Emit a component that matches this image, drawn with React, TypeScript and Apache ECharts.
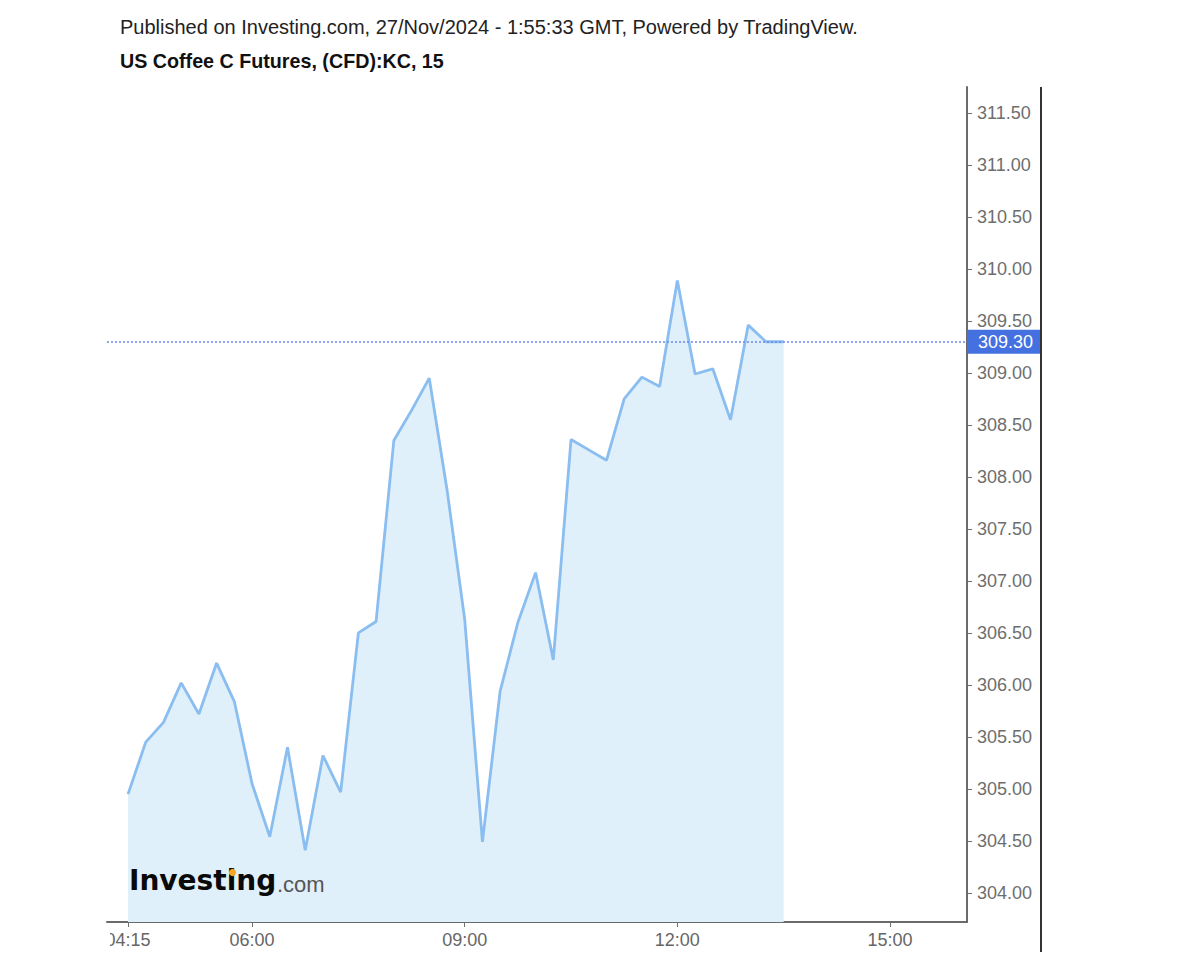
import React, { useEffect, useRef } from "react";
import * as echarts from "echarts";

const publishedLine = "Published on Investing.com, 27/Nov/2024 - 1:55:33 GMT, Powered by TradingView.";
const symbolLine = "US Coffee C Futures, (CFD):KC, 15";

const times = [
  "04:15", "04:30", "04:45", "05:00", "05:15", "05:30", "05:45", "06:00",
  "06:15", "06:30", "06:45", "07:00", "07:15", "07:30", "07:45", "08:00",
  "08:15", "08:30", "08:45", "09:00", "09:15", "09:30", "09:45", "10:00",
  "10:15", "10:30", "10:45", "11:00", "11:15", "11:30", "11:45", "12:00",
  "12:15", "12:30", "12:45", "13:00", "13:15", "13:30",
];

const prices = [
  304.95, 305.45, 305.64, 306.02, 305.72, 306.21, 305.84, 305.05,
  304.54, 305.40, 304.41, 305.32, 304.97, 306.50, 306.61, 308.35,
  308.64, 308.95, 307.88, 306.63, 304.49, 305.94, 306.60, 307.08,
  306.24, 308.36, 308.26, 308.16, 308.75, 308.96, 308.87, 309.89,
  308.99, 309.04, 308.55, 309.46, 309.30, 309.30,
];

const lastPrice = 309.3;

const xTickLabels = ["04:15", "06:00", "09:00", "12:00", "15:00"];
const yTickLabels = [304.0, 304.5, 305.0, 305.5, 306.0, 306.5, 307.0, 307.5, 308.0, 308.5, 309.0, 309.5, 310.0, 310.5, 311.0, 311.5];

const toMin = (t: string) => {
  const [h, m] = t.split(":").map(Number);
  return h * 60 + m;
};
const fmtMin = (v: number) => {
  const h = Math.floor(v / 60);
  const m = Math.round(v - h * 60);
  return String(h).padStart(2, "0") + ":" + String(m).padStart(2, "0");
};

export default function App() {
  const ref = useRef<HTMLDivElement>(null);
  useEffect(() => {
    if (!ref.current) return;
    const chart = echarts.init(ref.current, null, { renderer: "svg" });
    const font = '"Liberation Sans", Arial, sans-serif';
    chart.setOption({
      animation: false,
      backgroundColor: "#ffffff",
      grid: { left: 107, right: 233, top: 87, bottom: 38, containLabel: false },
      xAxis: {
        type: "value",
        min: 237.2,
        max: 965.2,
        splitLine: { show: false },
        axisLine: { show: true, lineStyle: { color: "#6a6a6a", width: 2 } },
        axisTick: {
          show: true,
          length: 5,
          customValues: xTickLabels.map(toMin),
          lineStyle: { color: "#707070", width: 1 },
        },
        axisLabel: {
          customValues: xTickLabels.map(toMin),
          formatter: (v: number) => fmtMin(v),
          color: "#666666",
          fontSize: 18,
          fontFamily: font,
          margin: 9,
        },
      },
      yAxis: {
        type: "value",
        position: "right",
        min: 303.72,
        max: 311.75,
        scale: true,
        splitLine: { show: false },
        axisLine: { show: true, lineStyle: { color: "#6a6a6a", width: 2 } },
        axisTick: {
          show: true,
          length: 5,
          customValues: yTickLabels,
          lineStyle: { color: "#707070", width: 1 },
        },
        axisLabel: {
          customValues: yTickLabels,
          formatter: (v: number) => v.toFixed(2),
          color: "#6e6e6e",
          fontSize: 18,
          fontFamily: font,
          margin: 10,
        },
      },
      series: [
        {
          type: "line",
          data: times.map((t, i) => [toMin(t), prices[i]]),
          symbol: "none",
          showSymbol: false,
          lineStyle: { color: "#8abdf0", width: 2.8 },
          areaStyle: { color: "#e0f0fa", opacity: 1, origin: "start" },
          markLine: {
            symbol: "none",
            silent: true,
            lineStyle: { type: [2, 2], color: "#6b89e6", width: 1.6 },
            label: {
              show: true,
              position: "end",
              distance: 0,
              formatter: () => lastPrice.toFixed(2),
              color: "#ffffff",
              backgroundColor: "#4470e0",
              padding: [3, 7, 3, 11],
              fontSize: 18,
              lineHeight: 18,
              fontFamily: font,
            },
            data: [{ yAxis: lastPrice }],
          },
        },
      ],
      graphic: [
        {
          type: "text",
          left: 120,
          top: 17,
          style: { text: publishedLine, font: '20px "Liberation Sans", Arial, sans-serif', fill: "#222222" },
        },
        {
          type: "text",
          left: 120,
          top: 51,
          style: { text: symbolLine, font: 'bold 19.7px "Liberation Sans", Arial, sans-serif', fill: "#111111" },
        },
        {
          type: "text",
          left: 129,
          top: 866,
          style: { text: "Investing", font: 'bold 28px "DejaVu Sans", sans-serif', fill: "#0a0a0a" },
          z: 10,
        },
        {
          type: "circle",
          shape: { cx: 232.5, cy: 872.5, r: 3.6 },
          style: { fill: "#f5a623" },
          z: 11,
        },
        {
          type: "text",
          left: 277,
          top: 873,
          style: { text: ".com", font: '22px "Liberation Sans", Arial, sans-serif', fill: "#555555" },
          z: 10,
        },
        {
          type: "rect",
          shape: { x: 0, y: 926, width: 110, height: 30 },
          style: { fill: "#ffffff" },
          z: 20,
        },
        {
          type: "line",
          shape: { x1: 1041, y1: 87, x2: 1041, y2: 952 },
          style: { stroke: "#333333", lineWidth: 2 },
          z: 20,
        },
      ],
    });
    return () => chart.dispose();
  }, []);
  return <div ref={ref} style={{ position: "absolute", left: 0, top: 0, width: 1200, height: 960 }} />;
}
